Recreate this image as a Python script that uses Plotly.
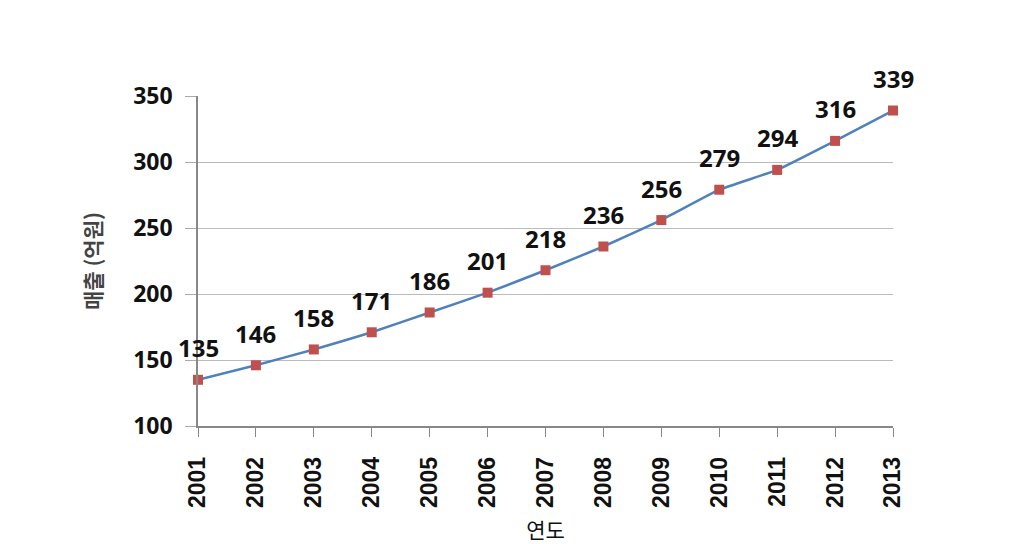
import plotly.graph_objects as go

years = [2001, 2002, 2003, 2004, 2005, 2006, 2007, 2008, 2009, 2010, 2011, 2012, 2013]
sales = [135, 146, 158, 171, 186, 201, 218, 236, 256, 279, 294, 316, 339]
y_ticks = [100, 150, 200, 250, 300, 350]
x_title = "연도"
y_title = "매출 (억원)"

label_font = "Open Sans, Liberation Sans, sans-serif"
tick_font = "Liberation Sans, Arial, sans-serif"
kor_font = "Noto Sans CJK KR, sans-serif"

fig = go.Figure()
fig.add_trace(go.Scatter(
    x=years, y=sales, mode="lines+markers",
    line=dict(color="#4f81bd", width=2.5, shape="spline", smoothing=0.3),
    marker=dict(symbol="square", size=10, color="#c0504d", line=dict(width=0)),
    showlegend=False, cliponaxis=False,
))
for xv, yv in zip(years, sales):
    fig.add_annotation(x=xv, y=yv, text=str(yv), showarrow=False, yshift=32,
                       font=dict(family=label_font, size=24, color="#111111", weight="bold"))

fig.update_layout(
    width=1013, height=544,
    margin=dict(l=190, r=128, t=88, b=126),
    paper_bgcolor="white", plot_bgcolor="white",
    font=dict(family=tick_font, color="#111111"),
)
fig.update_xaxes(
    range=[2001, 2013], tickmode="array", tickvals=years, ticktext=[str(y) for y in years],
    tickangle=-90, tickfont=dict(family=tick_font, size=23, weight="bold", color="#111111"),
    ticks="outside", ticklen=9, tickcolor="#888888", ticklabelstandoff=11,
    showline=True, linecolor="#888888", linewidth=1.5, showgrid=False, zeroline=False,
    title=dict(text=x_title, font=dict(family=kor_font, size=21, color="#111111"), standoff=16),
)
fig.update_yaxes(
    range=[100, 350], tickmode="array", tickvals=y_ticks,
    tickfont=dict(family=label_font, size=23, weight="bold", color="#111111"),
    ticks="outside", ticklen=11, tickcolor="#aaaaaa", ticklabelstandoff=8,
    showline=True, linecolor="#888888", linewidth=1.5,
    showgrid=True, gridcolor="#bbbbbb", gridwidth=1, zeroline=False,
    title=dict(text=y_title, font=dict(family=kor_font, size=21, color="#444444", weight="bold"), standoff=26),
)
fig.write_html("out.html")
